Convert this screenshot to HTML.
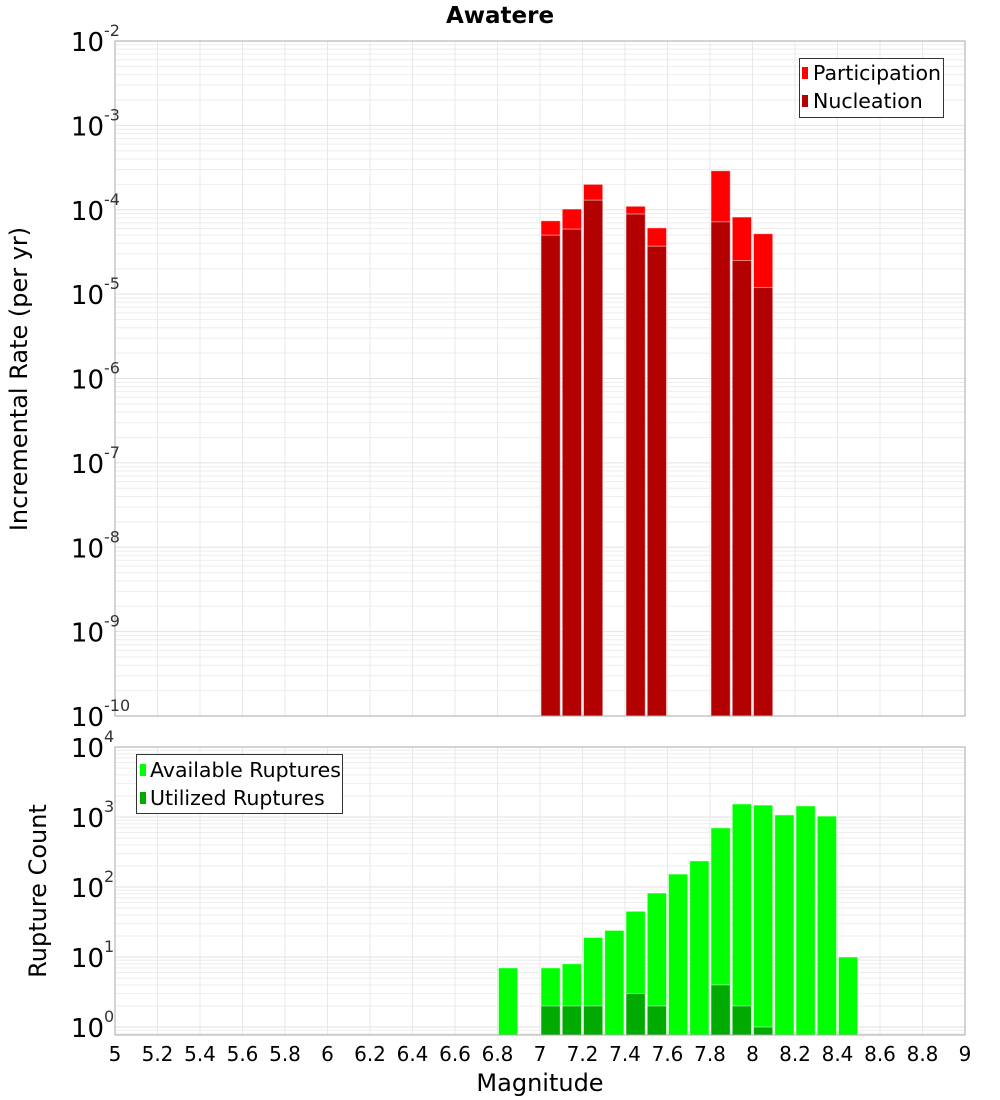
<!DOCTYPE html>
<html><head><meta charset="utf-8"><style>
body{margin:0;background:#fff;}
svg{display:block;font-family:"DejaVu Sans","Liberation Sans",sans-serif;}
</style></head><body>
<svg id="chart" width="1000" height="1100" viewBox="0 0 1000 1100">
<g id="grid"></g><g id="bars"></g><g id="axes"></g>
</svg>
<script>
const binCenters=[6.85,7.05,7.15,7.25,7.35,7.45,7.55,7.65,7.75,7.85,7.95,8.05,8.15,8.25,8.35,8.45];
const participation=[0,7.4e-5,1.02e-4,2.0e-4,0,1.1e-4,6.1e-5,0,0,2.9e-4,8.2e-5,5.2e-5,0,0,0,0];
const nucleation=[0,5.0e-5,5.9e-5,1.3e-4,0,8.9e-5,3.7e-5,0,0,7.2e-5,2.5e-5,1.2e-5,0,0,0,0];
const available=[7,7,8,19,24,45,82,153,236,700,1535,1480,1070,1440,1030,10];
const utilized=[0,2,2,2,0,3,2,0,0,4,2,1,0,0,0,0];
const xTicks=[5,5.2,5.4,5.6,5.8,6,6.2,6.4,6.6,6.8,7,7.2,7.4,7.6,7.8,8,8.2,8.4,8.6,8.8,9];
const topExps=[-10,-9,-8,-7,-6,-5,-4,-3,-2];
const botExps=[0,1,2,3,4];

const NS="http://www.w3.org/2000/svg";
const G=document.getElementById('grid'),B=document.getElementById('bars'),A=document.getElementById('axes');
function mk(p,t,at,txt){const e=document.createElementNS(NS,t);for(const k in at)e.setAttribute(k,at[k]);if(txt!==undefined)e.textContent=txt;p.appendChild(e);return e;}
const L=115,R=965;
const xs=v=>L+(v-5)/4*(R-L);
const T1=41,B1=716;const yTop=v=>B1-(Math.log10(v)+10)/8*(B1-T1);
const T2=747,B2=1035;const lmin=-0.114;const yBot=v=>B2-(Math.log10(v)-lmin)/(4-lmin)*(B2-T2);

function grid(top,bot,ys,lo,hi){
  for(let e=Math.floor(lo);e<hi;e++)for(let m=1;m<10;m++){const v=m*Math.pow(10,e);const lv=Math.log10(v);if(lv<lo||lv>hi)continue;const y=ys(v);
    const l=mk(G,'line',{x1:L,x2:R,y1:y,y2:y,stroke:m==1?'#e2e2e2':'#eeeeee','stroke-width':1});
    
    }
  xTicks.forEach(t=>{const x=xs(t);const l=mk(G,'line',{x1:x,x2:x,y1:top,y2:bot,stroke:'#e8e8e8','stroke-width':1});
    
    });
}
grid(T1,B1,yTop,-10,-2);
grid(T2,B2,yBot,lmin,4);

function bar(c,val,ys,base,fill,name){
  if(!val)return;const x0=xs(c-0.05)+1,x1=xs(c+0.05)-1;const y=ys(val);
  const r=mk(B,'rect',{x:x0,y:y,width:x1-x0,height:base-y,fill:fill,stroke:'#ffffff','stroke-opacity':0.5,'stroke-width':1});
  
  
}
binCenters.forEach((c,i)=>{bar(c,participation[i],yTop,B1,'#ff0000','participation-bar');bar(c,nucleation[i],yTop,B1,'#b30000','nucleation-bar');});
binCenters.forEach((c,i)=>{bar(c,available[i],yBot,B2,'#00ff00','available-bar');bar(c,utilized[i],yBot,B2,'#00aa00','utilized-bar');});

let f=mk(A,'rect',{x:L,y:T1,width:R-L,height:B1-T1,fill:'none',stroke:'#aaaaaa'});


f=mk(A,'rect',{x:L,y:T2,width:R-L,height:B2-T2,fill:'none',stroke:'#aaaaaa'});



function ylab(y,e){
  const t=mk(A,'text',{x:104,y:y+10,'text-anchor':'end','font-size':26,fill:'#000'},'10');
  
  
  const s=mk(A,'text',{x:104,y:y-5,'text-anchor':'start','font-size':16,fill:'#333'},String(e));
  
  
}
topExps.forEach(e=>{ylab(yTop(Math.pow(10,e)),e);});
botExps.forEach(e=>{ylab(yBot(Math.pow(10,e)),e);});
xTicks.forEach(t=>{const tx=mk(A,'text',{x:xs(t),y:1061,'text-anchor':'middle','font-size':20,fill:'#000'},String(t));
  
  });
</script>
<script>
(function(){
const NS="http://www.w3.org/2000/svg";const A=document.getElementById('axes');
function mk(t,at,txt){const e=document.createElementNS(NS,t);for(const k in at)e.setAttribute(k,at[k]);if(txt!==undefined)e.textContent=txt;A.appendChild(e);return e;}
let e;
e=mk('text',{x:500,y:23,'text-anchor':'middle','font-size':23,'font-weight':'bold'},'Awatere');


e=mk('text',{x:0,y:0,'text-anchor':'middle','font-size':24,transform:'translate(27,379) rotate(-90)'},'Incremental Rate (per yr)');


e=mk('text',{x:0,y:0,'text-anchor':'middle','font-size':24,transform:'translate(46,891) rotate(-90)'},'Rupture Count');


e=mk('text',{x:540,y:1091,'text-anchor':'middle','font-size':24},'Magnitude');


e=mk('rect',{x:799.5,y:58.5,width:144,height:59,fill:'#fff',stroke:'#333'});


e=mk('rect',{x:802,y:67,width:6,height:12,fill:'#ff0000'});


e=mk('text',{x:813,y:80,'font-size':20.5},'Participation');


e=mk('rect',{x:802,y:95,width:6,height:12,fill:'#b30000'});


e=mk('text',{x:813,y:108,'font-size':20.5},'Nucleation');


e=mk('rect',{x:136.5,y:754.5,width:206,height:59,fill:'#fff',stroke:'#333'});


e=mk('rect',{x:140,y:764,width:6,height:12,fill:'#00ff00'});


e=mk('text',{x:150,y:777,'font-size':20.5},'Available Ruptures');


e=mk('rect',{x:140,y:792,width:6,height:12,fill:'#00aa00'});


e=mk('text',{x:150,y:805,'font-size':20.5},'Utilized Ruptures');


})();
</script>
</body></html>
